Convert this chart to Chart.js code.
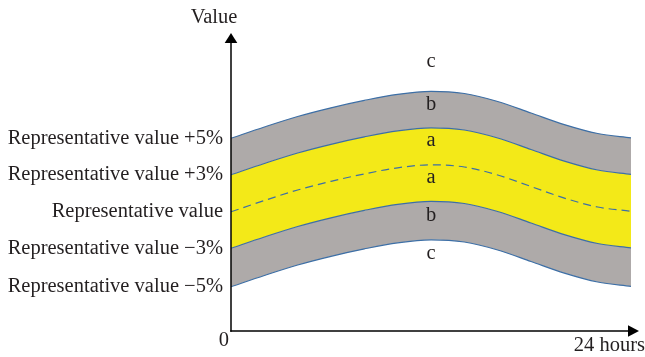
<!DOCTYPE html>
<html>
<head>
<meta charset="utf-8">
<script src="https://cdn.jsdelivr.net/npm/chart.js@4/dist/chart.umd.min.js"></script>
<style>
  html, body { margin: 0; padding: 0; background: #fff; }
  #wrap { width: 645px; height: 357px; position: relative; }
</style>
</head>
<body>
<div id="wrap"><canvas id="c"></canvas></div>
<script>
// ---- data ----
const hours = [0, 2, 4, 6, 8, 10, 12, 14, 16, 18, 20, 22, 24];
const plus5  = [192.7, 204, 214.5, 223.2, 230.6, 236.7, 239.7, 237.5, 229.5, 218, 206.4, 197.5, 193.2];
const plus3  = [156.2, 167.5, 178, 186.7, 194.1, 200.2, 203.2, 201, 193, 181.5, 169.9, 161, 156.7];
const repVal = [119.2, 130.5, 141, 149.7, 157.1, 163.2, 166.2, 164, 156, 144.5, 132.9, 124, 119.7];
const minus3 = [82.7, 94, 104.5, 113.2, 120.6, 126.7, 129.7, 127.5, 119.5, 108, 96.4, 87.5, 83.2];
const minus5 = [44.2, 55.5, 66, 74.7, 82.1, 88.2, 91.2, 89, 81, 69.5, 57.9, 49, 44.7];

const yTickValues = [192.7, 156.2, 119.2, 82.7, 44.2];
const yTickLabels = ['Representative value +5%', 'Representative value +3%', 'Representative value',
                     'Representative value \u22123%', 'Representative value \u22125%'];

const bandLetters = ['c', 'b', 'a', 'a', 'b', 'c'];
const bandLetterValues = [264, 221.5, 184.7, 148, 110.5, 72];
const bandLetterHour = 12;

const axisTitleY = 'Value';
const originLabel = '0';
const axisTitleX = '24 hours';

// ---- styles ----
const FONT = '"Liberation Serif", "Times New Roman", serif';
const FSIZE = 20.5;
const TEXT = '#231f20';
const LINE = '#3d6fa6';
const GRAY = '#aeaaa9';
const YELLOW = '#f3e918';

const toXY = arr => arr.map((v, i) => ({ x: hours[i], y: v }));

const common = { borderColor: LINE, borderWidth: 1.2, pointRadius: 0, tension: 0.4, cubicInterpolationMode: 'monotone' };

const annot = {
  id: 'annot',
  afterDraw(chart) {
    const ctx = chart.ctx;
    const xs = chart.scales.x, ys = chart.scales.y;
    const ox = xs.getPixelForValue(0), oy = ys.getPixelForValue(0);
    const topY = chart.chartArea.top;
    const endX = xs.getPixelForValue(24);
    ctx.save();
    ctx.strokeStyle = '#000';
    ctx.fillStyle = '#000';
    ctx.lineWidth = 1.5;
    // y axis
    ctx.beginPath();
    ctx.moveTo(ox, oy + 0.75);
    ctx.lineTo(ox, topY + 8);
    ctx.stroke();
    ctx.beginPath();
    ctx.moveTo(ox, topY);
    ctx.lineTo(ox - 6.3, topY + 10);
    ctx.lineTo(ox + 6.3, topY + 10);
    ctx.closePath();
    ctx.fill();
    // x axis
    ctx.beginPath();
    ctx.moveTo(ox - 0.75, oy);
    ctx.lineTo(endX + 0, oy);
    ctx.stroke();
    ctx.beginPath();
    ctx.moveTo(endX + 8, oy);
    ctx.lineTo(endX - 3, oy - 5.8);
    ctx.lineTo(endX - 3, oy + 5.8);
    ctx.closePath();
    ctx.fill();

    // texts
    ctx.fillStyle = TEXT;
    ctx.font = FSIZE + 'px ' + FONT;
    ctx.textBaseline = 'alphabetic';
    ctx.textAlign = 'center';
    ctx.fillText(axisTitleY, ox - 17, 23);
    ctx.textAlign = 'right';
    ctx.fillText(originLabel, ox - 2, oy + 15);
    ctx.fillText(axisTitleX, 645, oy + 20);
    ctx.textAlign = 'center';
    const lx = xs.getPixelForValue(bandLetterHour);
    bandLetters.forEach((t, i) => {
      ctx.fillText(t, lx, ys.getPixelForValue(bandLetterValues[i]));
    });
    ctx.restore();
  }
};

new Chart(document.getElementById('c'), {
  type: 'line',
  data: {
    datasets: [
      { ...common, label: '+5%', data: toXY(plus5), fill: '+1', backgroundColor: GRAY },
      { ...common, label: '+3%', data: toXY(plus3), fill: 3, backgroundColor: YELLOW },
      { ...common, label: 'rep', data: toXY(repVal), fill: false, borderDash: [8, 5] },
      { ...common, label: '-3%', data: toXY(minus3), fill: '+1', backgroundColor: GRAY },
      { ...common, label: '-5%', data: toXY(minus5), fill: false }
    ]
  },
  options: {
    responsive: true,
    maintainAspectRatio: false,
    animation: false,
    events: [],
    layout: { padding: { top: 33, bottom: 26, right: 14, left: 0 } },
    plugins: {
      legend: { display: false },
      tooltip: { enabled: false },
      filler: { drawTime: 'beforeDatasetsDraw' }
    },
    scales: {
      x: { type: 'linear', min: 0, max: 24, display: false },
      y: {
        type: 'linear', min: 0, max: 298,
        grid: { display: false },
        border: { display: false },
        afterFit(scale) { scale.width = 231; },
        afterBuildTicks(scale) { scale.ticks = yTickValues.map(v => ({ value: v })); },
        ticks: {
          padding: 0,
          color: TEXT,
          font: { family: FONT, size: FSIZE },
          callback(value) {
            const i = yTickValues.indexOf(value);
            return i >= 0 ? yTickLabels[i] : '';
          }
        }
      }
    }
  },
  plugins: [annot]
});
</script>
</body>
</html>
